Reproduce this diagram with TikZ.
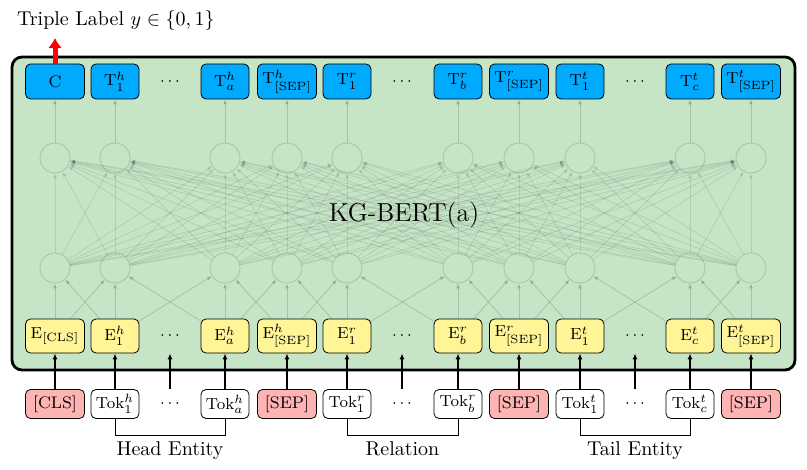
\documentclass[tikz,border=0pt]{standalone}
\usetikzlibrary{arrows.meta}
\definecolor{bertgreen}{RGB}{198,228,198}
\definecolor{outblue}{RGB}{0,170,255}
\definecolor{embyellow}{RGB}{255,245,150}
\definecolor{sepred}{RGB}{255,180,180}
\tikzset{
  tokbox/.style={draw, rounded corners=2.5pt, inner sep=1pt, font=\fontsize{8.4}{10}\selectfont, minimum height=14.5pt},
  embbox/.style={tokbox, fill=embyellow, minimum height=17pt},
  outbox/.style={tokbox, fill=outblue, minimum height=17.5pt},
  neuron/.style={circle, draw=black, draw opacity=0.15, minimum size=15pt, inner sep=0pt},
  link/.style={draw=black, opacity=0.09, -{Latex[length=2.5pt,width=2pt]}},
  feed/.style={semithick, -{Latex[length=3pt,width=2.5pt]}},
  dotcell/.style={font=\footnotesize, inner sep=1pt}
}
\begin{document}
\begin{tikzpicture}[x=0.5pt,y=-0.5pt]
  \useasboundingbox (0,0) rectangle (807,470);
  \draw[line width=1.4pt, rounded corners=5pt, fill=bertgreen] (12,57) rectangle (795,370);
  \node[font=\fontsize{13}{16}\selectfont] (bert) at (404,215) {KG-BERT(a)};
  % columns: output, two hidden layers, embedding, input token
  \foreach \i/\x/\w/\tx/\ex/\kx/\kf in {
    1/55/29.5/C/{$\mathrm{E}_{\mathrm{[CLS]}}$}/{[CLS]}/sepred,
    2/115/24/{$\mathrm{T}_1^h$}/{$\mathrm{E}_1^h$}/{$\mathrm{Tok}_1^h$}/white,
    3/225/24/{$\mathrm{T}_a^h$}/{$\mathrm{E}_a^h$}/{$\mathrm{Tok}_a^h$}/white,
    4/287/29.5/{$\mathrm{T}^h_{\mathrm{[SEP]}}$}/{$\mathrm{E}^h_{\mathrm{[SEP]}}$}/{[SEP]}/sepred,
    5/347/24/{$\mathrm{T}_1^r$}/{$\mathrm{E}_1^r$}/{$\mathrm{Tok}_1^r$}/white,
    6/458/24/{$\mathrm{T}_b^r$}/{$\mathrm{E}_b^r$}/{$\mathrm{Tok}_b^r$}/white,
    7/519/29.5/{$\mathrm{T}^r_{\mathrm{[SEP]}}$}/{$\mathrm{E}^r_{\mathrm{[SEP]}}$}/{[SEP]}/sepred,
    8/580/24/{$\mathrm{T}_1^t$}/{$\mathrm{E}_1^t$}/{$\mathrm{Tok}_1^t$}/white,
    9/690/24/{$\mathrm{T}_c^t$}/{$\mathrm{E}_c^t$}/{$\mathrm{Tok}_c^t$}/white,
    10/751/29.5/{$\mathrm{T}^t_{\mathrm{[SEP]}}$}/{$\mathrm{E}^t_{\mathrm{[SEP]}}$}/{[SEP]}/sepred}
  {
    \node[outbox, minimum width=\w pt] (t\i) at (\x,81.5) {\tx};
    \node[neuron] (u\i) at (\x,158) {};
    \node[neuron] (l\i) at (\x,268) {};
    \node[embbox, minimum width=\w pt] (e\i) at (\x,336) {\ex};
    \node[tokbox, fill=\kf, minimum width=\w pt] (k\i) at (\x,404) {\kx};
    \draw[feed] (k\i) -- (e\i);
    \draw[link, opacity=0.15] (u\i) -- (t\i);
  }
  \foreach \i/\x in {1/170,2/402,3/635}
  {
    \node[dotcell] (td\i) at (\x,81.5) {$\cdots$};
    \node[dotcell, minimum height=17pt] (ed\i) at (\x,336) {$\cdots$};
    \node[dotcell, minimum height=14.5pt] (kd\i) at (\x,404) {$\cdots$};
    \draw[feed] (kd\i) -- (ed\i);
  }
  % hidden layers
  \foreach \i in {1,...,10}
    \foreach \j in {1,...,10}
      \draw[link] (l\i) -- (u\j);
  \foreach \i in {1,...,10}
    \foreach \d in {-1,0,1}
    {
      \pgfmathtruncatemacro\j{\i+\d}
      \ifnum\j>0 \ifnum\j<11 \draw[link, opacity=0.15] (e\i) -- (l\j); \fi\fi
    }
  % label on top
  \node[anchor=west] (lbl) at (10,21) {Triple Label $y \in \{0,1\}$};
  \draw[red, line width=2.5pt, -{Latex[length=5pt,width=7pt]}] (t1.north) -- (t1.north |- lbl.south);
  % brackets
  \draw (k2.south) -- ++(0,16) -| node[pos=0.25, below] (headlbl) {Head Entity} (k3.south);
  \draw (k5.south) -- ++(0,16) -| node[pos=0.25, below] (rellbl) {Relation} (k6.south);
  \draw (k8.south) -- ++(0,16) -| node[pos=0.25, below] (taillbl) {Tail Entity} (k9.south);
\end{tikzpicture}
\end{document}
